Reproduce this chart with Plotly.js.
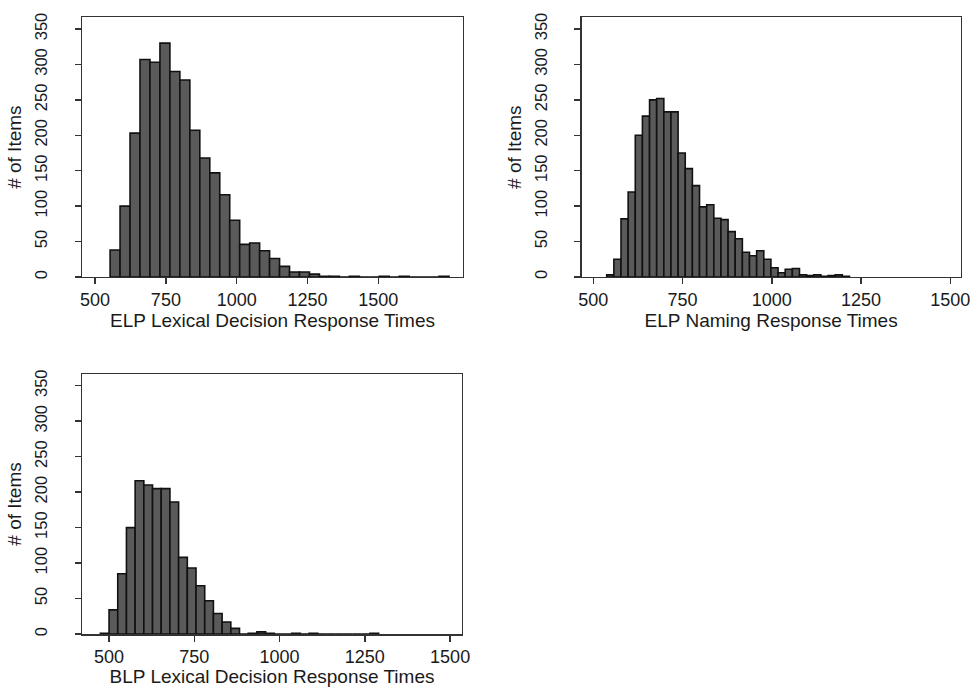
<!DOCTYPE html>
<html>
<head>
<meta charset="utf-8">
<script src="https://cdn.plot.ly/plotly-3.0.1.min.js"></script>
<style>html,body{margin:0;padding:0;background:#fff;}#chart{width:971px;height:687px;}</style>
</head>
<body>
<div id="chart"></div>
<script>
// ELP Lexical Decision response times histogram
const elpLdBinStart = 553;
const elpLdBinWidth = 35.2;
const elpLdCounts = [38, 100, 203, 307, 303, 330, 290, 278, 207, 168, 147, 116, 80, 46, 48, 37, 26, 15, 7, 7, 4, 1, 1, 0, 1, 0, 0, 1, 0, 1, 0, 0, 0, 1];

// ELP Naming response times histogram
const elpNmBinStart = 537.5;
const elpNmBinWidth = 20;
const elpNmCounts = [3, 25, 82, 120, 200, 227, 250, 252, 233, 233, 175, 153, 129, 99, 102, 83, 81, 64, 54, 35, 30, 37, 25, 13, 6, 11, 12, 3, 2, 3, 1, 2, 3, 1];

// BLP Lexical Decision response times histogram
const blpLdBinStart = 474.5;
const blpLdBinWidth = 25.5;
const blpLdCounts = [1, 34, 85, 150, 216, 210, 205, 205, 186, 108, 93, 68, 47, 29, 17, 8, 0, 1, 3, 1, 0, 0, 1, 0, 1, 0, 0, 0, 0, 0, 0, 1];

const xTickVals = [500, 750, 1000, 1250, 1500];
const yTickVals = [0, 50, 100, 150, 200, 250, 300, 350];

const xTitles = ["ELP Lexical Decision Response Times", "ELP Naming Response Times", "BLP Lexical Decision Response Times"];
const yTitle = "# of Items";

function centers(start, width, counts) {
  return counts.map((_, i) => start + width * (i + 0.5));
}

function barTrace(start, width, counts, xa, ya) {
  return {
    type: 'bar',
    x: centers(start, width, counts),
    y: counts,
    width: counts.map(() => width),
    xaxis: xa, yaxis: ya,
    marker: {color: '#5a5a5a', line: {color: '#111', width: 1.6}},
    hoverinfo: 'x+y',
    showlegend: false
  };
}

const FONT = 'Liberation Sans, Arial, Helvetica, sans-serif';

function xAxis(domain, range, anchor, title) {
  return {
    domain: domain, range: range, anchor: anchor,
    tickmode: 'array', tickvals: xTickVals, ticktext: xTickVals.map(String),
    ticks: 'outside', ticklen: 6, tickwidth: 1.5, tickcolor: '#333',
    showline: true, mirror: true, linecolor: '#333', linewidth: 1.5,
    showgrid: false, zeroline: false,
    tickfont: {family: FONT, size: 18, color: '#1a1a1a'},
    title: {text: title, font: {family: FONT, size: 19, color: '#1a1a1a'}, standoff: 4}
  };
}

function yAxis(domain, anchor) {
  return {
    domain: domain, range: [0, 366.5], anchor: anchor,
    tickmode: 'array', tickvals: yTickVals, ticktext: yTickVals.map(String),
    ticks: 'outside', ticklen: 6, tickwidth: 1.5, tickcolor: '#333',
    tickangle: -90, ticklabelstandoff: 21,
    showline: true, mirror: true, linecolor: '#333', linewidth: 1.5,
    showgrid: false, zeroline: false,
    tickfont: {family: FONT, size: 16.5, color: '#1a1a1a'},
    title: {text: yTitle, font: {family: FONT, size: 19, color: '#1a1a1a'}, standoff: 5}
  };
}

const data = [
  barTrace(elpLdBinStart, elpLdBinWidth, elpLdCounts, 'x', 'y'),
  barTrace(elpNmBinStart, elpNmBinWidth, elpNmCounts, 'x2', 'y2'),
  barTrace(blpLdBinStart, blpLdBinWidth, blpLdCounts, 'x3', 'y3')
];

const layout = {
  width: 971, height: 687,
  margin: {l: 0, r: 0, t: 0, b: 0},
  paper_bgcolor: '#fff', plot_bgcolor: '#fff',
  bargap: 0,
  xaxis: xAxis([0.0848, 0.4765], [455, 1798], 'y', xTitles[0]),
  yaxis: yAxis([0.5968, 0.9748], 'x'),
  xaxis2: xAxis([0.5991, 0.9892], [467.5, 1528.6], 'y2', xTitles[1]),
  yaxis2: yAxis([0.5968, 0.9748], 'x2'),
  xaxis3: xAxis([0.0848, 0.4755], [421.7, 1534], 'y3', xTitles[2]),
  yaxis3: yAxis([0.0771, 0.4556], 'x3'),
  font: {family: FONT, color: '#1a1a1a'}
};

Plotly.newPlot('chart', data, layout, {displayModeBar: false, staticPlot: true});
</script>
</body>
</html>
